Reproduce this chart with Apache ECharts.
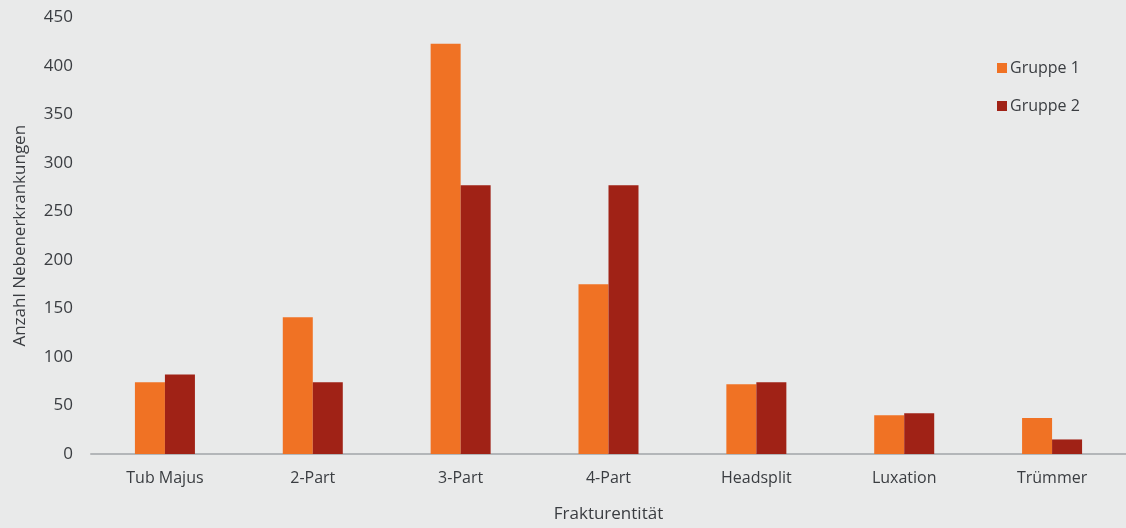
<!DOCTYPE html>
<html>
<head>
<meta charset="utf-8">
<script src="https://cdn.jsdelivr.net/npm/echarts@6/dist/echarts.min.js"></script>
<style>
  html, body { margin: 0; padding: 0; background: #e9eaea; }
  #chart { width: 1126px; height: 528px; }
</style>
</head>
<body>
<div id="chart"></div>
<script>
// Fracture types and comorbidity counts per group
const categories = ['Tub Majus', '2-Part', '3-Part', '4-Part', 'Headsplit', 'Luxation', 'Trümmer'];
const gruppe1 = [74, 141, 423, 175, 72, 40, 37];
const gruppe2 = [82, 74, 277, 277, 74, 42, 15];
const seriesNames = ['Gruppe 1', 'Gruppe 2'];
const yTicks = { min: 0, max: 450, interval: 50 };

const FONT = '"Open Sans", Lato, sans-serif';
const TEXT = '#3a3d41';

const chart = echarts.init(document.getElementById('chart'));
chart.setOption({
  backgroundColor: '#e9eaea',
  animation: false,
  textStyle: { fontFamily: FONT },
  legend: {
    orient: 'vertical',
    left: 992,
    top: 55,
    itemWidth: 10,
    itemHeight: 10,
    itemGap: 22,
    icon: 'rect',
    textStyle: { fontFamily: FONT, fontSize: 16, color: TEXT, padding: [0, 0, 0, -2] },
    data: seriesNames
  },
  grid: { left: 91, right: -5, top: 17.5, bottom: 70, containLabel: false },
  xAxis: {
    type: 'category',
    data: categories,
    name: 'Frakturentität',
    nameLocation: 'middle',
    nameGap: 52,
    nameTextStyle: { fontFamily: FONT, fontSize: 17, color: TEXT },
    axisLine: { lineStyle: { color: '#b3b6b9', width: 2 } },
    axisTick: { show: false },
    axisLabel: { fontFamily: FONT, fontSize: 16, color: TEXT, margin: 16 }
  },
  yAxis: {
    type: 'value',
    min: yTicks.min,
    max: yTicks.max,
    interval: yTicks.interval,
    name: 'Anzahl Nebenerkrankungen',
    nameLocation: 'middle',
    nameGap: 62,
    nameTextStyle: { fontFamily: FONT, fontSize: 17, color: TEXT },
    axisLine: { show: false },
    axisTick: { show: false },
    splitLine: { show: false },
    axisLabel: { fontFamily: FONT, fontSize: 17, color: TEXT, margin: 18 }
  },
  series: [
    {
      name: seriesNames[0],
      type: 'bar',
      data: gruppe1,
      barWidth: 30,
      barGap: '0%',
      itemStyle: { color: '#f07224' }
    },
    {
      name: seriesNames[1],
      type: 'bar',
      data: gruppe2,
      barWidth: 30,
      barGap: '0%',
      itemStyle: { color: '#a02216' }
    }
  ]
});
</script>
</body>
</html>
